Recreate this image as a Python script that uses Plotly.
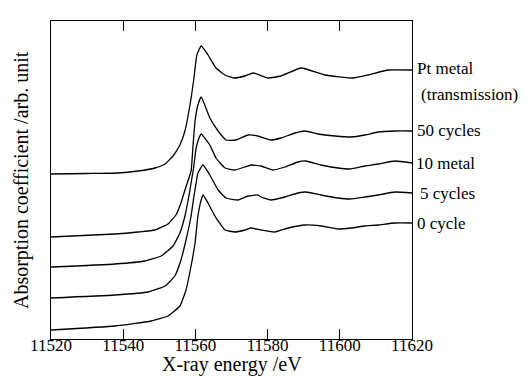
import plotly.graph_objects as go

# ---- data (absorption in arb. units, offsets included) ----
e_pt = [11520.0, 11530.0, 11538.6, 11544.1, 11548.8, 11551.6, 11553.8, 11555.7, 11557.1, 11558.5,
        11559.6, 11560.4, 11561.6, 11563.5, 11565.7, 11568.2, 11570.7, 11573.7, 11576.0, 11580.1,
        11583.7, 11589.3, 11595.9, 11603.7, 11607.8, 11613.4, 11620.0]
mu_pt = [1.65, 1.655, 1.66, 1.68, 1.71, 1.75, 1.83, 1.94, 2.08, 2.34,
         2.61, 2.84, 2.93, 2.84, 2.71, 2.64, 2.61, 2.63, 2.66, 2.61,
         2.63, 2.71, 2.64, 2.61, 2.64, 2.69, 2.69]

e_50 = [11520.0, 11537.7, 11544.1, 11548.8, 11552.4, 11554.6, 11556.0, 11557.1, 11558.8, 11559.3,
        11559.9, 11560.7, 11561.6, 11564.0, 11566.3, 11568.5, 11571.2, 11574.6, 11577.3, 11580.9,
        11583.7, 11587.6, 11590.4, 11594.0, 11598.7, 11603.1, 11607.0, 11610.6, 11615.3, 11620.0]
mu_50 = [1.02, 1.05, 1.07, 1.09, 1.15, 1.24, 1.36, 1.49, 1.68, 1.91,
         2.18, 2.34, 2.42, 2.21, 2.08, 1.99, 1.99, 2.04, 2.03, 1.99,
         2.01, 2.06, 2.08, 2.05, 2.03, 2.02, 2.04, 2.07, 2.08, 2.08]

e_10 = [11520.0, 11537.7, 11546.0, 11550.5, 11553.8, 11555.7, 11557.1, 11558.2, 11558.8, 11559.5,
        11560.2, 11561.0, 11561.6, 11564.0, 11565.7, 11568.2, 11571.0, 11573.7, 11575.4, 11578.2,
        11581.5, 11584.8, 11588.4, 11590.6, 11594.8, 11599.5, 11602.8, 11607.0, 11610.6, 11615.3,
        11620.0]
mu_10 = [0.72, 0.75, 0.78, 0.83, 0.93, 1.06, 1.23, 1.43, 1.56, 1.71,
         1.91, 2.01, 2.05, 1.94, 1.81, 1.71, 1.69, 1.72, 1.74, 1.73,
         1.69, 1.72, 1.77, 1.78, 1.74, 1.71, 1.70, 1.73, 1.75, 1.78,
         1.76]

e_5 = [11520.0, 11537.7, 11546.9, 11551.6, 11554.3, 11556.0, 11557.4, 11558.8, 11559.6, 11560.2,
       11560.7, 11562.1, 11564.0, 11566.3, 11568.5, 11571.8, 11574.6, 11577.3, 11578.2, 11580.9,
       11584.8, 11588.4, 11590.6, 11594.8, 11599.5, 11602.8, 11607.0, 11610.6, 11615.3, 11620.0]
mu_5 = [0.41, 0.44, 0.47, 0.53, 0.63, 0.79, 0.99, 1.23, 1.43, 1.56,
        1.66, 1.74, 1.64, 1.49, 1.41, 1.39, 1.43, 1.44, 1.42, 1.39,
        1.42, 1.46, 1.47, 1.44, 1.41, 1.40, 1.42, 1.44, 1.47, 1.46]

e_0 = [11520.0, 11537.7, 11547.7, 11552.4, 11555.7, 11557.4, 11558.8, 11559.9, 11560.7, 11561.6,
       11562.1, 11563.5, 11565.4, 11566.3, 11568.2, 11571.0, 11573.7, 11575.4, 11578.2, 11582.0,
       11585.7, 11590.4, 11594.8, 11599.5, 11603.1, 11607.0, 11610.6, 11615.3, 11620.0]
mu_0 = [0.09, 0.13, 0.18, 0.23, 0.33, 0.49, 0.73, 0.96, 1.23, 1.39,
        1.44, 1.36, 1.23, 1.18, 1.09, 1.07, 1.09, 1.11, 1.09, 1.07,
        1.11, 1.14, 1.13, 1.10, 1.11, 1.13, 1.14, 1.16, 1.16]

x_ticks = [11520, 11540, 11560, 11580, 11600, 11620]
x_tick_text = ["11520", "11540", "11560", "11580", "11600", "11620"]
x_range = [11520, 11620]
y_range = [0, 3.18]

# labels placed at the right of the frame (text, y value in arb. units, small x shift in px)
labels = [("Pt metal", 2.71, 3), ("(transmission)", 2.45, 7), ("50 cycles", 2.09, 3),
          ("10 metal", 1.76, 2), ("5 cycles", 1.46, 6), ("0 cycle", 1.16, 3)]

FONT = "Times New Roman"

fig = go.Figure()
for ex, mu in [(e_pt, mu_pt), (e_50, mu_50), (e_10, mu_10), (e_5, mu_5), (e_0, mu_0)]:
    fig.add_trace(go.Scatter(x=ex, y=mu, mode="lines",
                             line=dict(color="black", width=1.3, shape="spline", smoothing=0.4),
                             showlegend=False, hoverinfo="skip"))

for text, yv, dx in labels:
    fig.add_annotation(x=1.0, xref="paper", y=yv, yref="y", text=text, showarrow=False,
                       xanchor="left", yanchor="middle", xshift=dx,
                       font=dict(family=FONT, size=17, color="black"))

fig.add_annotation(x=0.5, xref="paper", y=-0.081, yref="paper", text="X-ray energy /eV",
                   showarrow=False, xanchor="center", yanchor="middle",
                   font=dict(family=FONT, size=20, color="black"))
fig.add_annotation(x=-0.083, xref="paper", y=0.5, yref="paper",
                   text="Absorption coefficient /arb. unit", textangle=-90,
                   showarrow=False, xanchor="center", yanchor="middle",
                   font=dict(family=FONT, size=20, color="black"))

fig.update_layout(
    width=526, height=376,
    margin=dict(l=43, r=122, t=13, b=45),
    paper_bgcolor="white", plot_bgcolor="white",
    font=dict(family=FONT, size=17, color="black"),
    xaxis=dict(range=x_range, tickvals=x_ticks, ticktext=x_tick_text, ticks="inside",
               ticklen=10, tickwidth=1.2, ticklabelstandoff=-10,
               tickcolor="black", showline=True, linecolor="black", linewidth=1.3,
               mirror="ticks", showgrid=False, zeroline=False,
               tickfont=dict(family=FONT, size=17, color="black")),
    yaxis=dict(range=y_range, showticklabels=False, ticks="", showline=True,
               linecolor="black", linewidth=1.3, mirror=True, showgrid=False, zeroline=False),
)

fig.write_html("out.html")
